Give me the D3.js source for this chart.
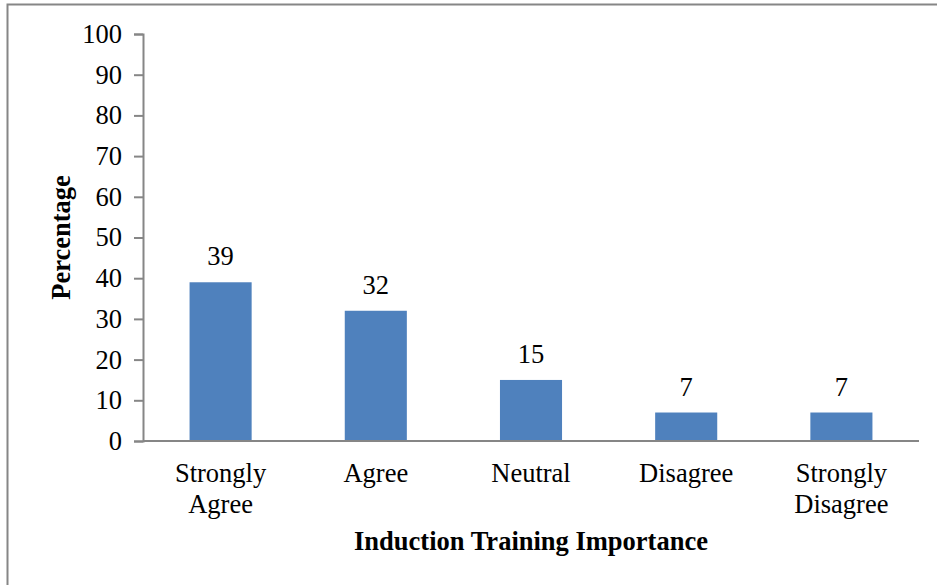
<!DOCTYPE html>
<html>
<head>
<meta charset="utf-8">
<script src="https://cdn.jsdelivr.net/npm/d3@7"></script>
<style>
  body { margin: 0; background: #fff; }
  svg text { font-family: "Liberation Serif", "Times New Roman", serif; fill: #000; }
</style>
</head>
<body>
<svg id="chart" width="937" height="585"></svg>
<script>
// Data
const categories = ["Strongly Agree", "Agree", "Neutral", "Disagree", "Strongly Disagree"];
const values = [39, 32, 15, 7, 7];
const yTicks = [0, 10, 20, 30, 40, 50, 60, 70, 80, 90, 100];

const font = "Liberation Serif, Times New Roman, serif";
const fontSize = 26.5;

const svg = d3.select("#chart");
const margin = { top: 34, left: 143, right: 18, bottom: 144 };
const width = 937;
const height = 585;

// Outer frame
svg.append("rect")
  .attr("x", 7.5)
  .attr("y", 4.5)
  .attr("width", width + 10)
  .attr("height", height + 10)
  .attr("fill", "none")
  .attr("stroke", "#868686")
  .attr("stroke-width", 2);

const x = d3.scaleBand()
  .domain(categories)
  .range([margin.left, width - margin.right])
  .paddingInner(0.6)
  .paddingOuter(0.3);

const y = d3.scaleLinear()
  .domain([0, 100])
  .range([height - margin.bottom, margin.top]);

// Y axis
const yAxis = svg.append("g")
  .attr("transform", `translate(${margin.left},0)`)
  .attr("font-family", font)
  .attr("font-size", fontSize)
  .call(d3.axisLeft(y).tickValues(yTicks).tickSize(9).tickPadding(12));
yAxis.select(".domain").attr("stroke", "#868686").attr("stroke-width", 2);
yAxis.selectAll(".tick line").attr("stroke", "#868686").attr("stroke-width", 2);
yAxis.selectAll(".tick text")
  .attr("font-size", fontSize)
  .attr("font-family", font)
  .attr("fill", "#000");

// Bars
svg.selectAll("rect.bar")
  .data(values)
  .join("rect")
  .attr("class", "bar")
  .attr("x", (d, i) => x(categories[i]))
  .attr("y", d => y(d))
  .attr("width", x.bandwidth())
  .attr("height", d => y(0) - y(d))
  .attr("fill", "#4F81BD");

// X axis line
svg.append("line")
  .attr("x1", margin.left)
  .attr("x2", width - margin.right)
  .attr("y1", y(0))
  .attr("y2", y(0))
  .attr("stroke", "#868686")
  .attr("stroke-width", 2);

// Value labels
svg.selectAll("text.value")
  .data(values)
  .join("text")
  .attr("class", "value")
  .attr("x", (d, i) => x(categories[i]) + x.bandwidth() / 2)
  .attr("y", d => y(d) - 17)
  .attr("text-anchor", "middle")
  .attr("font-family", font)
  .attr("font-size", fontSize)
  .text(d => d);

// Category labels (wrapped)
categories.forEach(c => {
  const words = c.split(" ");
  const t = svg.append("text")
    .attr("x", x(c) + x.bandwidth() / 2)
    .attr("y", 482)
    .attr("text-anchor", "middle")
    .attr("font-family", font)
    .attr("font-size", fontSize);
  words.forEach((w, i) => {
    t.append("tspan")
      .attr("x", x(c) + x.bandwidth() / 2)
      .attr("dy", i === 0 ? 0 : 31)
      .text(w);
  });
});

// Axis titles
svg.append("text")
  .attr("x", (margin.left + width - margin.right) / 2)
  .attr("y", 550)
  .attr("text-anchor", "middle")
  .attr("font-family", font)
  .attr("font-size", fontSize)
  .attr("font-weight", "bold")
  .text("Induction Training Importance");

svg.append("text")
  .attr("transform", `translate(70,${(y(0) + y(100)) / 2}) rotate(-90)`)
  .attr("text-anchor", "middle")
  .attr("font-family", font)
  .attr("font-size", fontSize)
  .attr("font-weight", "bold")
  .text("Percentage");
</script>
</body>
</html>
